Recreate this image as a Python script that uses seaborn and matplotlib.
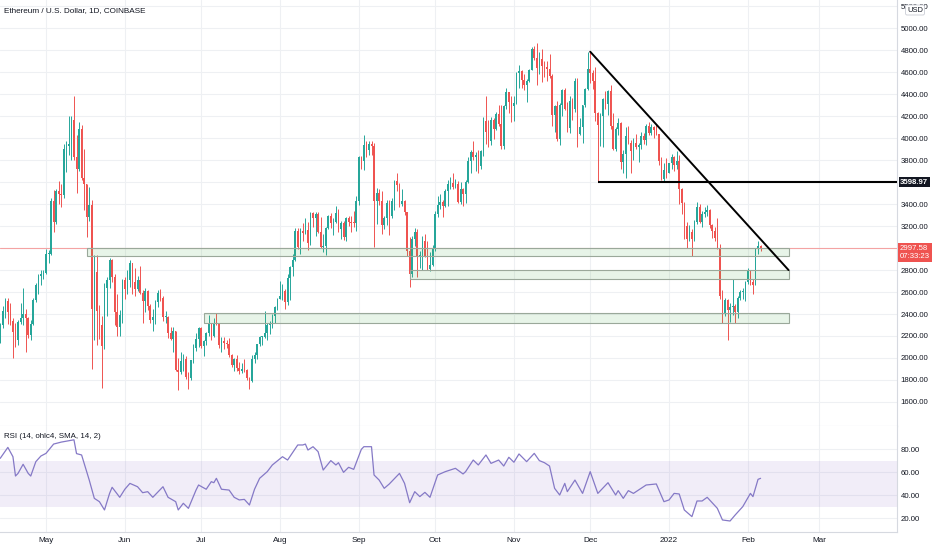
import numpy as np
import pandas as pd
import matplotlib
matplotlib.use("Agg")
import matplotlib.pyplot as plt
import matplotlib.dates as mdates
from matplotlib.patches import Rectangle
from matplotlib.ticker import FuncFormatter
import seaborn as sns

# ---------------- data ----------------
first_day = "2021-04-13"

closes = [
    2300, 2430, 2515, 2420, 2340, 2235, 2160, 2330, 2360, 2400, 2360, 2210, 2310, 2530, 2660, 2750, 2760, 2775,
    2945, 2950, 3430, 3240, 3520, 3490, 3480, 3900, 3930, 3950, 4170, 3830, 3720, 4080, 3640, 3580, 3280, 3390,
    2450, 2780, 2430, 2300, 2110, 2640, 2710, 2890, 2740, 2420, 2280, 2390, 2710,
    2630, 2710, 2860, 2690, 2630, 2710, 2590, 2520, 2610, 2470, 2350, 2370, 2510, 2590, 2550, 2370, 2370, 2230,
    2170, 2250, 1890, 1870, 1970, 1990, 1830, 1820, 1980, 2090, 2170, 2275,
    2110, 2150, 2230, 2320, 2200, 2320, 2315, 2120, 2150, 2140, 2130, 2030, 1940, 1995, 1910, 1880, 1900, 1890,
    1820, 1790, 1995, 2025, 2125, 2190, 2190, 2230, 2300, 2300, 2380, 2460, 2540,
    2560, 2610, 2505, 2725, 2830, 2890, 3160, 3010, 3160, 3140, 3165, 3050, 3320, 3270, 3310, 3150, 3010, 3020,
    3180, 3290, 3230, 3240, 3320, 3170, 3230, 3100, 3270, 3240, 3230, 3225, 3430,
    3830, 3790, 3940, 3890, 3950, 3925, 3430, 3500, 3430, 3210, 3270, 3410, 3290, 3430, 3610, 3570, 3400, 3430,
    3330, 2975, 2760, 3080, 3150, 2930, 2930, 3060, 2930, 2810, 2850, 3000,
    3310, 3390, 3420, 3380, 3515, 3580, 3590, 3560, 3580, 3420, 3540, 3490, 3600, 3790, 3870, 3830, 3850, 3750,
    3880, 4160, 4060, 3970, 4170, 4080, 4220, 4130, 3930, 4290, 4420, 4330, 4290,
    4320, 4590, 4610, 4530, 4480, 4520, 4620, 4810, 4730, 4640, 4720, 4660, 4650, 4630, 4570, 4210, 4290, 3990,
    4300, 4440, 4270, 4090, 4340, 4270, 4520, 4040, 4100, 4300, 4450, 4630,
    4590, 4520, 4230, 4120, 4200, 4360, 4310, 4430, 4110, 3900, 4080, 4140, 3780, 3860, 4020, 3960, 3880, 3960,
    3920, 3940, 4020, 3980, 4110, 4050, 4100, 4070, 4040, 3790, 3630, 3710, 3680,
    3770, 3830, 3760, 3790, 3540, 3410, 3200, 3080, 3150, 3080, 3240, 3370, 3240, 3310, 3330, 3350, 3210, 3160,
    3090, 3000, 2560, 2410, 2530, 2440, 2460, 2470, 2420, 2550, 2600, 2600, 2690,
    2790, 2690, 2660, 2990, 3015, 2998,
]

opens = [
    2140, 2300, 2430, 2515, 2420, 2340, 2235, 2160, 2330, 2360, 2400, 2360, 2210, 2310, 2530, 2660, 2750, 2760,
    2775, 2945, 2950, 3430, 3240, 3520, 3490, 3480, 3900, 3930, 3950, 4170, 3830, 3720, 4080, 3640, 3580, 3280,
    3390, 2450, 2780, 2430, 2300, 2110, 2640, 2710, 2890, 2740, 2420, 2280, 2390,
    2710, 2630, 2710, 2860, 2690, 2630, 2710, 2590, 2520, 2610, 2470, 2350, 2370, 2510, 2590, 2550, 2370, 2370,
    2230, 2170, 2250, 1890, 1870, 1970, 1990, 1830, 1820, 1980, 2090, 2170,
    2275, 2110, 2150, 2230, 2320, 2200, 2320, 2315, 2120, 2150, 2140, 2130, 2030, 1940, 1995, 1910, 1880, 1900,
    1890, 1820, 1790, 1995, 2025, 2125, 2190, 2190, 2230, 2300, 2300, 2380, 2460,
    2540, 2560, 2610, 2505, 2725, 2830, 2890, 3160, 3010, 3160, 3140, 3165, 3050, 3320, 3270, 3310, 3150, 3010,
    3020, 3180, 3290, 3230, 3240, 3320, 3170, 3230, 3100, 3270, 3240, 3230, 3225,
    3430, 3830, 3790, 3940, 3890, 3950, 3925, 3430, 3500, 3430, 3210, 3270, 3410, 3290, 3430, 3610, 3570, 3400,
    3430, 3330, 2975, 2760, 3080, 3150, 2930, 2930, 3060, 2930, 2810, 2850,
    3000, 3310, 3390, 3420, 3380, 3515, 3580, 3590, 3560, 3580, 3420, 3540, 3490, 3600, 3790, 3870, 3830, 3850,
    3750, 3880, 4160, 4060, 3970, 4170, 4080, 4220, 4130, 3930, 4290, 4420, 4330,
    4290, 4320, 4590, 4610, 4530, 4480, 4520, 4620, 4810, 4730, 4640, 4720, 4660, 4650, 4630, 4570, 4210, 4290,
    3990, 4300, 4440, 4270, 4090, 4340, 4270, 4520, 4040, 4100, 4300, 4450,
    4630, 4590, 4520, 4230, 4120, 4200, 4360, 4310, 4430, 4110, 3900, 4080, 4140, 3780, 3860, 4020, 3960, 3880,
    3960, 3920, 3940, 4020, 3980, 4110, 4050, 4100, 4070, 4040, 3790, 3630, 3710,
    3680, 3770, 3830, 3760, 3790, 3540, 3410, 3200, 3080, 3150, 3080, 3240, 3370, 3240, 3310, 3330, 3350, 3210,
    3160, 3090, 3000, 2560, 2410, 2530, 2440, 2460, 2470, 2420, 2550, 2600, 2600,
    2690, 2790, 2690, 2660, 2990, 3015,
]

highs = [
    2320, 2470, 2545, 2550, 2500, 2360, 2320, 2350, 2500, 2640, 2450, 2370, 2350, 2550, 2680, 2760, 2800, 2800,
    2990, 2985, 3460, 3530, 3540, 3610, 3580, 3950, 3970, 4200, 4200, 4380, 4030, 4150, 4120, 3900, 3580, 3560,
    3440, 2940, 2940, 2480, 2380, 2680, 2740, 2910, 2900, 2760, 2580, 2440, 2720,
    2740, 2800, 2890, 2860, 2820, 2750, 2840, 2620, 2640, 2620, 2490, 2450, 2530, 2620, 2630, 2560, 2430, 2380,
    2280, 2280, 2250, 2000, 2050, 2040, 2020, 1870, 1980, 2130, 2230, 2280,
    2280, 2160, 2240, 2390, 2320, 2360, 2410, 2320, 2190, 2190, 2160, 2180, 2040, 2000, 2030, 1960, 1950, 1990,
    1900, 1830, 2030, 2050, 2130, 2200, 2200, 2430, 2320, 2340, 2400, 2470, 2550,
    2700, 2670, 2630, 2760, 2840, 2950, 3180, 3180, 3180, 3230, 3270, 3240, 3330, 3330, 3330, 3330, 3280, 3130,
    3190, 3300, 3320, 3270, 3380, 3360, 3250, 3250, 3280, 3290, 3290, 3340, 3470,
    3840, 3840, 4030, 3970, 3970, 3970, 3960, 3550, 3540, 3520, 3290, 3440, 3440, 3460, 3620, 3680, 3590, 3540,
    3440, 3330, 3100, 3110, 3180, 3170, 2970, 3110, 3130, 3060, 2960, 3030,
    3340, 3470, 3490, 3440, 3540, 3620, 3650, 3680, 3630, 3610, 3600, 3550, 3620, 3830, 3890, 3970, 3870, 3890,
    3890, 4190, 4380, 4170, 4190, 4180, 4240, 4300, 4300, 4300, 4460, 4420, 4380,
    4380, 4600, 4670, 4620, 4580, 4540, 4630, 4830, 4840, 4870, 4780, 4810, 4700, 4700, 4770, 4580, 4300, 4340,
    4320, 4450, 4460, 4330, 4380, 4370, 4550, 4550, 4180, 4300, 4460, 4780,
    4780, 4620, 4650, 4240, 4230, 4370, 4430, 4440, 4480, 4230, 4100, 4180, 4150, 3890, 4100, 4110, 3980, 4000,
    4040, 3960, 4060, 4050, 4130, 4150, 4130, 4110, 4130, 4040, 3830, 3770, 3820,
    3770, 3860, 3840, 3880, 3850, 3550, 3420, 3240, 3210, 3170, 3260, 3420, 3400, 3340, 3370, 3390, 3360, 3220,
    3190, 3270, 3040, 2620, 2550, 2540, 2500, 2720, 2490, 2560, 2620, 2640, 2700,
    2820, 2800, 2720, 3000, 3060, 3030,
]

lows = [
    2135, 2270, 2360, 2310, 2300, 2000, 2100, 2120, 2310, 2300, 2050, 2180, 2160, 2300, 2510, 2580, 2660, 2720,
    2760, 2860, 2940, 3150, 3220, 3400, 3370, 3460, 3690, 3850, 3800, 3800, 3500, 3700, 3620, 3350, 3100, 3250,
    1900, 2160, 2120, 2170, 1730, 2080, 2380, 2640, 2690, 2300, 2200, 2200, 2320,
    2540, 2580, 2650, 2580, 2560, 2610, 2580, 2320, 2420, 2440, 2320, 2250, 2310, 2460, 2520, 2340, 2320, 2180,
    2160, 2050, 1880, 1710, 1850, 1880, 1810, 1720, 1800, 1950, 2060, 2100,
    2090, 2020, 2120, 2200, 2160, 2190, 2300, 2090, 2050, 2080, 2090, 2010, 1920, 1880, 1880, 1850, 1860, 1870,
    1800, 1720, 1780, 1950, 1990, 2110, 2120, 2180, 2160, 2220, 2270, 2320, 2440,
    2540, 2530, 2450, 2480, 2530, 2750, 2880, 2990, 2950, 3060, 3130, 2980, 3030, 3190, 3110, 3140, 3000, 2960,
    2940, 3170, 3180, 3120, 3230, 3150, 3080, 3070, 3060, 3200, 3150, 3190, 3160,
    3390, 3720, 3710, 3830, 3850, 3850, 3010, 3220, 3390, 3130, 3170, 3210, 3120, 3270, 3350, 3520, 3370, 3380,
    3300, 2930, 2650, 2740, 3020, 2740, 2820, 2800, 2920, 2800, 2790, 2840,
    2970, 3280, 3360, 3280, 3370, 3380, 3540, 3540, 3550, 3410, 3400, 3380, 3410, 3590, 3680, 3800, 3700, 3680,
    3720, 3840, 3950, 3920, 3940, 3990, 4070, 4110, 3900, 3900, 4270, 4230, 4150,
    4160, 4310, 4460, 4460, 4440, 4330, 4510, 4620, 4710, 4480, 4580, 4510, 4560, 4520, 4550, 4110, 4060, 3970,
    3940, 4200, 4260, 4060, 4050, 4170, 4240, 3920, 4030, 3960, 4280, 4440,
    4500, 4450, 4160, 3599, 3930, 3920, 4270, 4210, 4080, 3890, 3880, 4030, 3720, 3680, 3640, 3950, 3680, 3800,
    3900, 3780, 3900, 3950, 3940, 4030, 4030, 4000, 4030, 3760, 3620, 3600, 3640,
    3680, 3720, 3700, 3720, 3400, 3310, 3080, 3000, 3060, 2930, 3060, 3220, 3230, 3190, 3280, 3290, 3180, 3090,
    3060, 2990, 2540, 2320, 2380, 2160, 2330, 2390, 2320, 2360, 2530, 2540, 2520,
    2670, 2660, 2580, 2660, 2950, 2975,
]

rsi_dates = [
    "2021-04-13", "2021-04-16", "2021-04-18", "2021-04-19", "2021-04-20", "2021-04-22", "2021-04-24", "2021-04-25",
    "2021-04-27", "2021-04-29", "2021-05-01", "2021-05-04", "2021-05-07", "2021-05-12", "2021-05-13", "2021-05-15",
    "2021-05-18", "2021-05-20", "2021-05-22", "2021-05-24", "2021-05-26", "2021-05-27", "2021-05-30", "2021-06-01",
    "2021-06-03", "2021-06-06", "2021-06-08", "2021-06-10", "2021-06-12", "2021-06-16", "2021-06-18", "2021-06-21",
    "2021-06-22", "2021-06-24", "2021-06-26", "2021-06-29", "2021-06-30", "2021-07-03", "2021-07-05", "2021-07-06",
    "2021-07-07", "2021-07-09", "2021-07-12", "2021-07-14", "2021-07-16", "2021-07-18", "2021-07-20", "2021-07-22",
    "2021-07-24", "2021-07-27", "2021-07-29", "2021-08-02", "2021-08-04", "2021-08-08", "2021-08-10", "2021-08-11",
    "2021-08-12", "2021-08-14", "2021-08-16", "2021-08-18", "2021-08-21", "2021-08-23", "2021-08-24", "2021-08-26",
    "2021-08-28", "2021-08-30", "2021-09-02", "2021-09-03", "2021-09-06", "2021-09-07", "2021-09-09", "2021-09-11",
    "2021-09-13", "2021-09-17", "2021-09-19", "2021-09-21", "2021-09-23", "2021-09-25", "2021-09-27", "2021-09-29",
    "2021-10-02", "2021-10-05", "2021-10-09", "2021-10-12", "2021-10-13", "2021-10-16", "2021-10-18", "2021-10-21",
    "2021-10-23", "2021-10-26", "2021-10-28", "2021-10-30", "2021-11-01", "2021-11-03", "2021-11-06", "2021-11-09",
    "2021-11-11", "2021-11-13", "2021-11-15", "2021-11-17", "2021-11-19", "2021-11-21", "2021-11-22", "2021-11-25",
    "2021-11-28", "2021-12-01", "2021-12-04", "2021-12-08", "2021-12-11", "2021-12-12", "2021-12-14", "2021-12-16",
    "2021-12-18", "2021-12-20", "2021-12-23", "2021-12-27", "2021-12-30", "2022-01-01", "2022-01-03", "2022-01-05",
    "2022-01-07", "2022-01-10", "2022-01-12", "2022-01-14", "2022-01-16", "2022-01-20", "2022-01-22", "2022-01-25",
    "2022-01-27", "2022-01-30", "2022-02-02", "2022-02-03", "2022-02-05", "2022-02-06",
]
rsi_values = [
    71.9, 81.4, 73.3, 56.5, 58.8, 66.7, 58.8, 56.5,
    69.0, 73.9, 76.2, 84.3, 86.0, 88.0, 76.0, 74.8,
    53.0, 37.1, 34.2, 27.0, 41.4, 46.7, 38.0, 45.0,
    50.1, 47.2, 42.0, 42.9, 38.0, 47.2, 38.0, 34.2,
    27.0, 32.8, 28.4, 44.3, 48.7, 45.0, 51.6, 50.7,
    54.5, 45.0, 44.3, 38.0, 35.7, 36.2, 31.3, 45.0,
    54.5, 60.3, 66.1, 73.3, 70.4, 83.5, 83.5, 84.3,
    79.1, 82.0, 77.7, 61.7, 69.9, 66.1, 68.1, 59.7,
    64.1, 62.3, 79.7, 82.0, 82.0, 57.4, 53.0, 45.8,
    49.6, 58.8, 50.1, 33.3, 42.9, 38.6, 42.3, 38.0,
    57.4, 60.3, 63.2, 58.3, 60.3, 70.4, 66.1, 74.8,
    67.5, 70.4, 65.2, 72.8, 68.5, 75.7, 69.0, 76.2,
    69.9, 68.1, 65.2, 45.8, 40.0, 50.1, 42.9, 53.0,
    41.4, 60.3, 41.4, 50.7, 40.0, 43.8, 37.1, 43.8,
    41.4, 44.3, 48.7, 49.6, 34.2, 35.7, 41.4, 40.9,
    27.0, 21.2, 34.8, 34.8, 38.0, 28.4, 18.3, 17.4,
    22.6, 29.9, 41.4, 38.6, 53.6, 54.5,
]

price_ticks = [1600, 1800, 2000, 2200, 2400, 2600, 2800, 3000, 3200, 3400, 3600, 3800,
               4000, 4200, 4400, 4600, 4800, 5000, 5200]
rsi_ticks = [20, 40, 60, 80]

zone_starts = ["2021-05-17", "2021-09-21", "2021-07-02"]
zone_ends = ["2022-02-17", "2022-02-17", "2022-02-17"]
zone_lows = [2930, 2720, 2320]
zone_highs = [3000, 2800, 2410]

trend_dates = ["2021-12-01", "2022-02-17"]
trend_prices = [4787, 2800]

support_start = "2021-12-04"
support_level = 3598.97
last_price = 2997.58
countdown = "07:33:23"

title_text = "Ethereum / U.S. Dollar, 1D, COINBASE"
rsi_text = "RSI (14, ohlc4, SMA, 14, 2)"

# ---------------- style ----------------
sns.set_theme(style="white")
plt.rcParams["font.family"] = ["Liberation Sans", "DejaVu Sans"]

W, H = 932, 550
fig = plt.figure(figsize=(W / 100, H / 100), dpi=100)
fig.patch.set_facecolor("white")

ax = fig.add_axes([0, 1 - 426 / H, 897 / W, 426 / H])
axr = fig.add_axes([0, 1 - 532 / H, 897 / W, 106 / H], sharex=ax)

UP, DOWN = "#26a69a", "#ef5350"
GRID = "#eef0f3"
TXT = "#131722"
EDGE = "#d6d9e0"
LBL = 5.6

df = pd.DataFrame({
    "date": pd.date_range(first_day, periods=len(closes), freq="D"),
    "open": opens, "high": highs, "low": lows, "close": closes,
})
is_up = df["close"] >= df["open"]
cols = np.where(is_up, UP, DOWN)

# x range (layout)
may1 = mdates.date2num(pd.Timestamp("2021-05-01"))
x_left = may1 - 46 / 2.543
x_right = may1 + (897 - 46) / 2.543

# ---------------- price panel ----------------
ax.vlines(df["date"], df["low"], df["high"], colors=cols, lw=0.7, zorder=3)
body_bot = np.minimum(df["open"], df["close"])
body_h = np.maximum(np.abs(df["close"] - df["open"]), 9)
ax.bar(df["date"], body_h, bottom=body_bot, width=0.62, color=cols, linewidth=0, zorder=4)

for s, e, lo, hi in zip(zone_starts, zone_ends, zone_lows, zone_highs):
    x0 = mdates.date2num(pd.Timestamp(s))
    x1 = mdates.date2num(pd.Timestamp(e))
    ax.add_patch(Rectangle((x0, lo), x1 - x0, hi - lo, facecolor=(0.30, 0.69, 0.31, 0.13),
                           edgecolor="#9aa89a", lw=0.8, zorder=5))

ax.axhline(last_price, color="#f4a3a3", lw=0.8, zorder=2)
ax.plot(pd.to_datetime(trend_dates), trend_prices, color="black", lw=1.4, zorder=6)
ax.hlines(support_level, mdates.date2num(pd.Timestamp(support_start)), x_right,
          color="black", lw=1.5, zorder=6)

ax.set_ylim(1381, 5257.5)
ax.set_xlim(x_left, x_right)
ax.set_yticks(price_ticks)
ax.yaxis.tick_right()
ax.yaxis.set_major_formatter(FuncFormatter(lambda v, p: f"{v:.2f}"))
ax.tick_params(axis="y", length=0, pad=2.5, labelsize=LBL, labelcolor=TXT)
ax.tick_params(axis="x", length=0, labelbottom=False)
ax.grid(True, color=GRID, lw=0.8, zorder=0)
ax.set_axisbelow(True)
for side in ["top", "left"]:
    ax.spines[side].set_visible(False)
for side in ["right", "bottom"]:
    ax.spines[side].set_color(EDGE)
    ax.spines[side].set_linewidth(0.8)

ax.text(4 / 897, 1 - 11 / 426, title_text, transform=ax.transAxes, fontsize=5.9,
        color=TXT, va="center", ha="left")

ax.annotate(f"{support_level:.2f}", xy=(1, support_level), xycoords=("axes fraction", "data"),
            xytext=(2.2, 0), textcoords="offset points", ha="left", va="center",
            fontsize=LBL, color="white", fontweight="bold", annotation_clip=False,
            bbox=dict(boxstyle="square,pad=0.2", fc=TXT, ec="none"))
ax.annotate(f"{last_price:.2f}\n{countdown}", xy=(1, last_price), xycoords=("axes fraction", "data"),
            xytext=(2.2, -3), textcoords="offset points", ha="left", va="center",
            fontsize=LBL, color="white", linespacing=1.2, annotation_clip=False,
            bbox=dict(boxstyle="square,pad=0.25", fc="#ef5350", ec="none"))
fig.text(915 / W, 1 - 10 / H, "USD", fontsize=5.4, color=TXT, ha="center", va="center",
         bbox=dict(boxstyle="round,pad=0.2", fc="white", ec="#c9ccd4", lw=0.6))

# ---------------- RSI panel ----------------
axr.axhspan(30, 70, color="#7e57c2", alpha=0.1, lw=0, zorder=1)
sns.lineplot(x=pd.to_datetime(rsi_dates), y=rsi_values, ax=axr, color="#8579c6", lw=0.9, zorder=3)
axr.set_ylim(7.83, 100)
axr.set_xlim(x_left, x_right)
axr.set_yticks(rsi_ticks)
axr.yaxis.tick_right()
axr.yaxis.set_major_formatter(FuncFormatter(lambda v, p: f"{v:.2f}"))
axr.tick_params(axis="y", length=0, pad=2.5, labelsize=LBL, labelcolor=TXT)
axr.xaxis.set_major_locator(mdates.MonthLocator())
axr.xaxis.set_major_formatter(FuncFormatter(
    lambda v, p: str(mdates.num2date(v).year) if mdates.num2date(v).month == 1
    else mdates.num2date(v).strftime("%b")))
axr.tick_params(axis="x", length=0, pad=3.5, labelsize=5.9, labelcolor=TXT)
axr.set_xlabel("")
axr.set_ylabel("")
axr.grid(True, color=GRID, lw=0.8, zorder=0)
axr.set_axisbelow(True)
for side in ["top", "left"]:
    axr.spines[side].set_visible(False)
for side in ["right", "bottom"]:
    axr.spines[side].set_color(EDGE)
    axr.spines[side].set_linewidth(0.8)

axr.text(4 / 897, 1 - 11 / 106, rsi_text, transform=axr.transAxes, fontsize=5.7,
         color=TXT, va="center", ha="left")

fig.savefig("out.png", dpi=100, facecolor="white")
